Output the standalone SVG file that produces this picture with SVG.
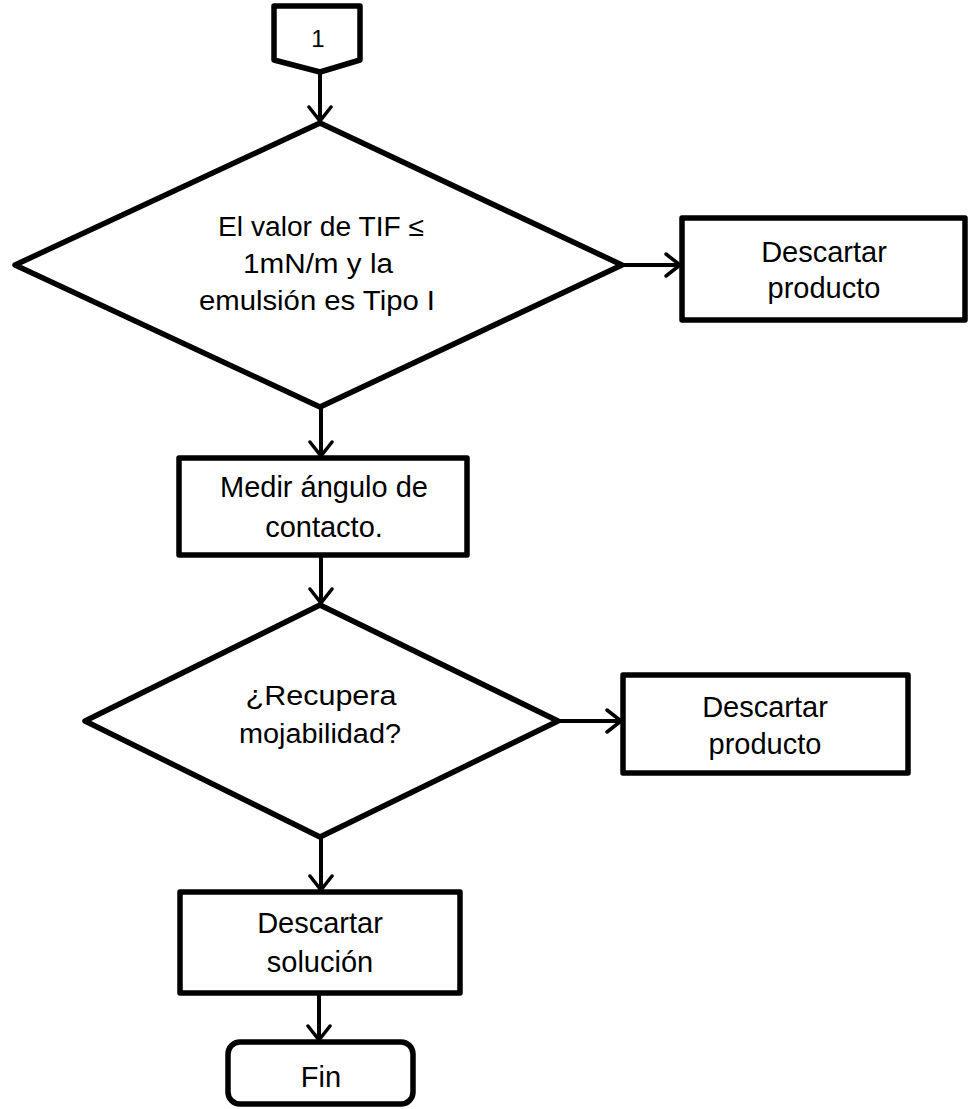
<svg xmlns="http://www.w3.org/2000/svg" width="968" height="1109" viewBox="0 0 968 1109">
<defs>
<marker id="arr" viewBox="0 0 18 26" refX="16" refY="13" markerWidth="18" markerHeight="26" markerUnits="userSpaceOnUse" orient="auto">
<path d="M2,2 L16,13 L2,24" fill="none" stroke="#000" stroke-width="3.5" stroke-linecap="round" stroke-linejoin="miter"/>
</marker>
</defs>
<style>
.s{fill:#fff;stroke:#000;stroke-width:5.5;stroke-linejoin:round}
.c{fill:none;stroke:#000;stroke-width:4}
text{font-family:"Liberation Sans",Arial,sans-serif;font-size:29px;fill:#000;text-anchor:middle}
.d{font-size:27px}
</style>
<g id="connectors">
<line class="c" x1="320" y1="72" x2="320" y2="121" marker-end="url(#arr)"/>
<line class="c" x1="622" y1="265" x2="680" y2="265" marker-end="url(#arr)"/>
<line class="c" x1="321" y1="408" x2="321" y2="456" marker-end="url(#arr)"/>
<line class="c" x1="321" y1="555" x2="321" y2="603" marker-end="url(#arr)"/>
<line class="c" x1="558" y1="721" x2="621" y2="721" marker-end="url(#arr)"/>
<line class="c" x1="321" y1="837" x2="321" y2="890" marker-end="url(#arr)"/>
<line class="c" x1="319" y1="993" x2="319" y2="1040" marker-end="url(#arr)"/>
</g>
<g id="start">
<path class="s" d="M274,6 L360,6 L360,60 L320,72 L274,60 Z"/>
<text x="318" y="47" style="font-size:24px">1</text>
</g>
<g id="decision1">
<path class="s" d="M320,123 L622,265 L320,407 L15,265 Z"/>
<text class="d" x="321" y="236" textLength="206" lengthAdjust="spacingAndGlyphs">El valor de TIF ≤</text>
<text class="d" x="318" y="273" textLength="150" lengthAdjust="spacingAndGlyphs">1mN/m y la</text>
<text class="d" x="317" y="310" textLength="236" lengthAdjust="spacingAndGlyphs">emulsión es Tipo I</text>
</g>
<g id="discard1">
<rect class="s" x="682" y="218" width="283" height="102"/>
<text x="824" y="262">Descartar</text>
<text x="824" y="298">producto</text>
</g>
<g id="measure">
<rect class="s" x="179" y="458" width="288" height="97"/>
<text x="324" y="497">Medir ángulo de</text>
<text x="324" y="537">contacto.</text>
</g>
<g id="decision2">
<path class="s" d="M320,605 L558,721 L320,837 L85,721 Z"/>
<text class="d" x="321" y="705" textLength="151" lengthAdjust="spacingAndGlyphs">¿Recupera</text>
<text class="d" x="320" y="743" textLength="162" lengthAdjust="spacingAndGlyphs">mojabilidad?</text>
</g>
<g id="discard2">
<rect class="s" x="623" y="675" width="285" height="98"/>
<text x="765" y="717">Descartar</text>
<text x="765" y="754">producto</text>
</g>
<g id="discardSolution">
<rect class="s" x="180" y="892" width="280" height="101"/>
<text x="320" y="933">Descartar</text>
<text x="320" y="972">solución</text>
</g>
<g id="end">
<rect class="s" x="228" y="1042" width="185" height="62" rx="12"/>
<text x="321" y="1087">Fin</text>
</g>
</svg>
